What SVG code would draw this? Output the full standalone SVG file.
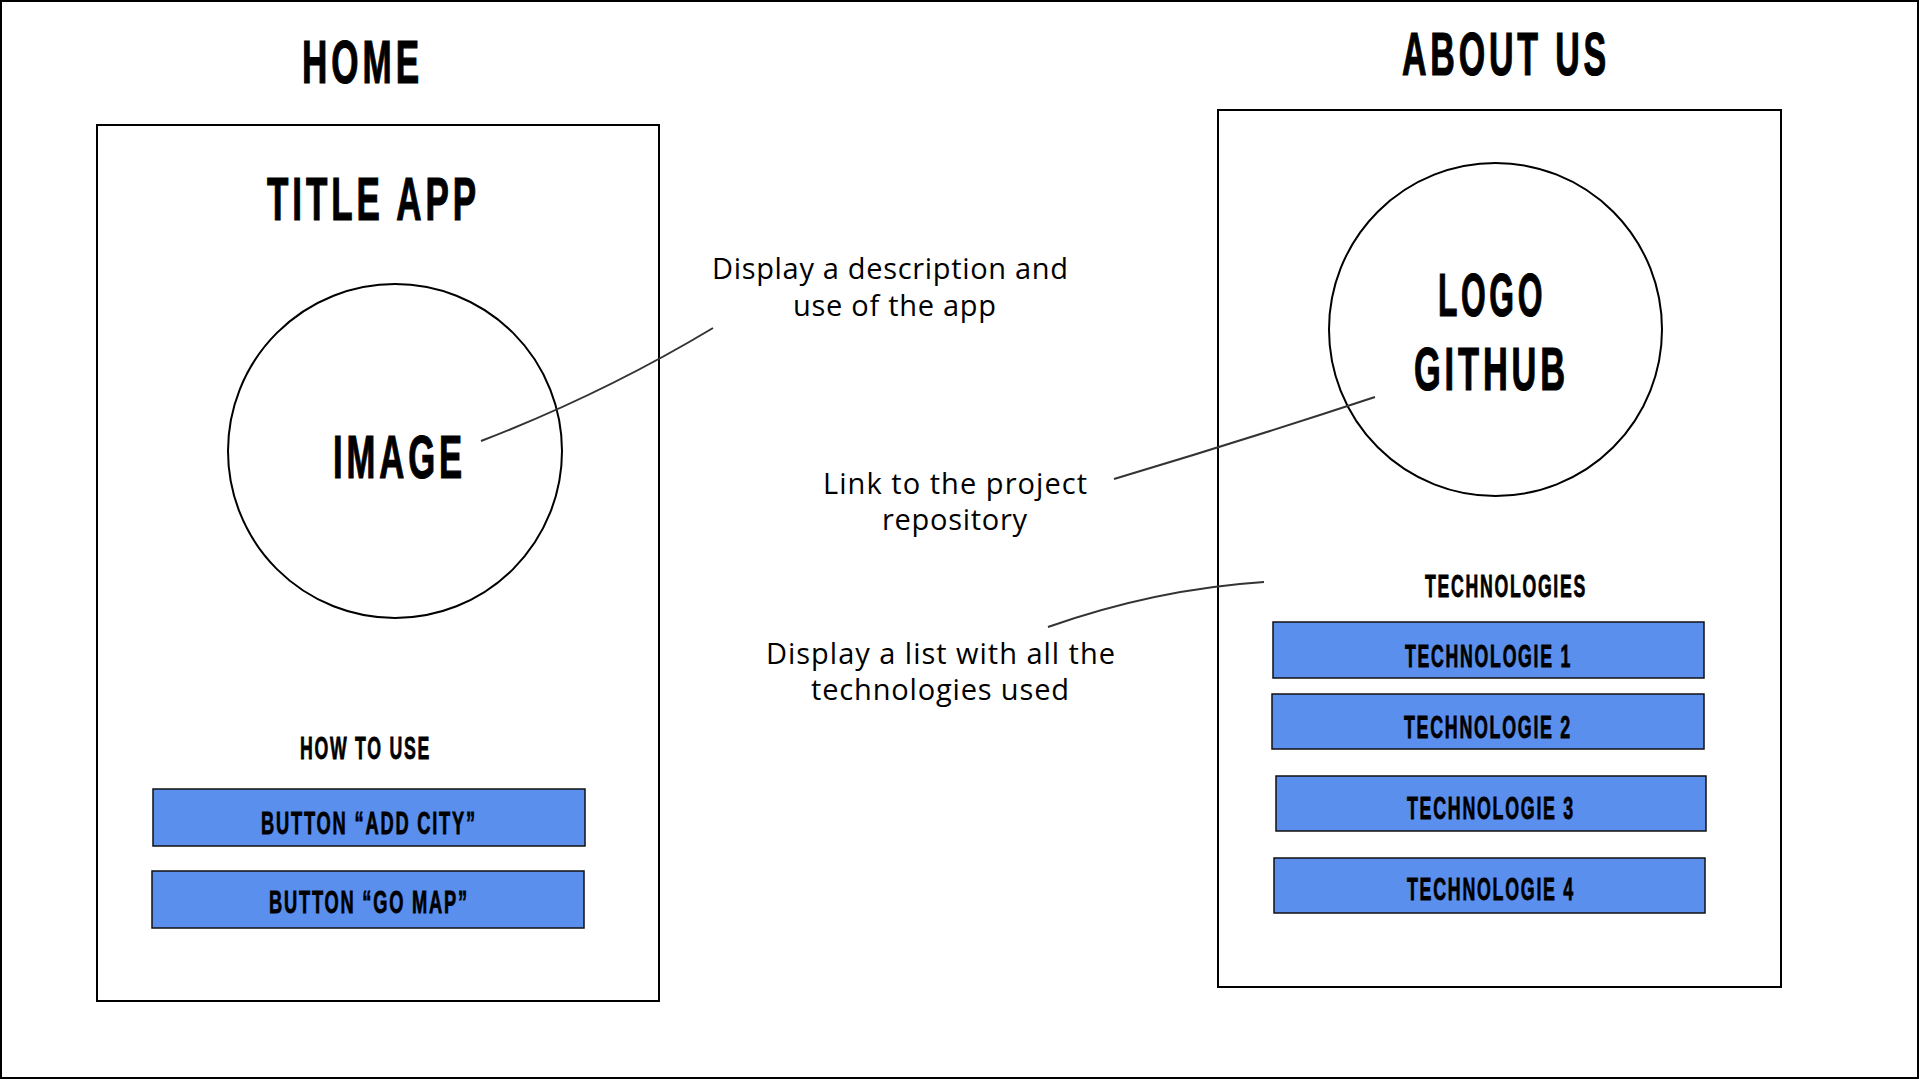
<svg xmlns="http://www.w3.org/2000/svg" width="1920" height="1080" viewBox="0 0 1920 1080">
<style>
.frame{fill:#fff;stroke:#000;stroke-width:2}
.circ{fill:none;stroke:#000;stroke-width:2}
.btn{fill:#5B8FEE;stroke:#111;stroke-width:1.5}
.h{font-family:"Liberation Sans",Arial,sans-serif;font-weight:bold;fill:#000;stroke:#000;stroke-width:1.2}
.big{font-size:62px;letter-spacing:7px}
.sm{font-size:31px;stroke-width:0.8;letter-spacing:3px}
.note{font-family:"Open Sans","Noto Sans",sans-serif;font-size:29px;fill:#000}
.lead{fill:none;stroke:#333;stroke-width:2}
</style>
<rect x="1" y="1" width="1917" height="1077" fill="#fff" stroke="#000" stroke-width="2"/>

<g id="home-title"><text class="h big" x="302" y="83" textLength="121" lengthAdjust="spacingAndGlyphs">HOME</text></g>
<g id="about-title"><text class="h big" x="1402" y="75" textLength="208" lengthAdjust="spacingAndGlyphs">ABOUT US</text></g>

<g id="home-screen">
<rect class="frame" x="97" y="125" width="562" height="876"/>
<text class="h big" x="267" y="220" textLength="213" lengthAdjust="spacingAndGlyphs">TITLE APP</text>
</g>
<g id="home-image">
<circle class="circ" cx="395" cy="451" r="167"/>
<text class="h big" x="333" y="478" textLength="133" lengthAdjust="spacingAndGlyphs">IMAGE</text>
</g>
<g id="how-to-use"><text class="h sm" x="300" y="759" textLength="131" lengthAdjust="spacingAndGlyphs">HOW TO USE</text></g>
<g id="btn-add-city">
<rect class="btn" x="153" y="789" width="432" height="57"/>
<text class="h sm" x="261" y="834" textLength="216" lengthAdjust="spacingAndGlyphs">BUTTON “ADD CITY”</text>
</g>
<g id="btn-go-map">
<rect class="btn" x="152" y="871" width="432" height="57"/>
<text class="h sm" x="269" y="913" textLength="200" lengthAdjust="spacingAndGlyphs">BUTTON “GO MAP”</text>
</g>

<g id="about-screen">
<rect class="frame" x="1218" y="110" width="563" height="877"/>
</g>
<g id="logo-github">
<circle class="circ" cx="1495.5" cy="329.5" r="166.5"/>
<text class="h big" x="1438" y="316" textLength="108" lengthAdjust="spacingAndGlyphs">LOGO</text>
<text class="h big" x="1414" y="390" textLength="155" lengthAdjust="spacingAndGlyphs">GITHUB</text>
</g>
<g id="technologies-label"><text class="h sm" x="1425" y="597" textLength="162" lengthAdjust="spacingAndGlyphs">TECHNOLOGIES</text></g>
<g id="tech-1">
<rect class="btn" x="1273" y="622" width="431" height="56"/>
<text class="h sm" x="1405" y="667" textLength="167" lengthAdjust="spacingAndGlyphs">TECHNOLOGIE 1</text>
</g>
<g id="tech-2">
<rect class="btn" x="1272" y="694" width="432" height="55"/>
<text class="h sm" x="1404" y="738" textLength="168" lengthAdjust="spacingAndGlyphs">TECHNOLOGIE 2</text>
</g>
<g id="tech-3">
<rect class="btn" x="1276" y="776" width="430" height="55"/>
<text class="h sm" x="1407" y="819" textLength="168" lengthAdjust="spacingAndGlyphs">TECHNOLOGIE 3</text>
</g>
<g id="tech-4">
<rect class="btn" x="1274" y="858" width="431" height="55"/>
<text class="h sm" x="1407" y="900" textLength="168" lengthAdjust="spacingAndGlyphs">TECHNOLOGIE 4</text>
</g>

<g id="note-description">
<text class="note" x="712" y="279" textLength="356" lengthAdjust="spacing">Display a description and</text>
<text class="note" x="793" y="316" textLength="203" lengthAdjust="spacing">use of the app</text>
</g>
<g id="note-repository">
<text class="note" x="823" y="494" textLength="264" lengthAdjust="spacing">Link to the project</text>
<text class="note" x="882" y="530" textLength="145" lengthAdjust="spacing">repository</text>
</g>
<g id="note-technologies">
<text class="note" x="766" y="664" textLength="349" lengthAdjust="spacing">Display a list with all the</text>
<text class="note" x="811" y="700" textLength="258" lengthAdjust="spacing">technologies used</text>
</g>

<g id="connectors">
<path class="lead" d="M481,441 Q603,394 713,328"/>
<path class="lead" d="M1114,479 Q1245,440 1375,397"/>
<path class="lead" d="M1048,627 Q1156,589 1264,582"/>
</g>
</svg>
